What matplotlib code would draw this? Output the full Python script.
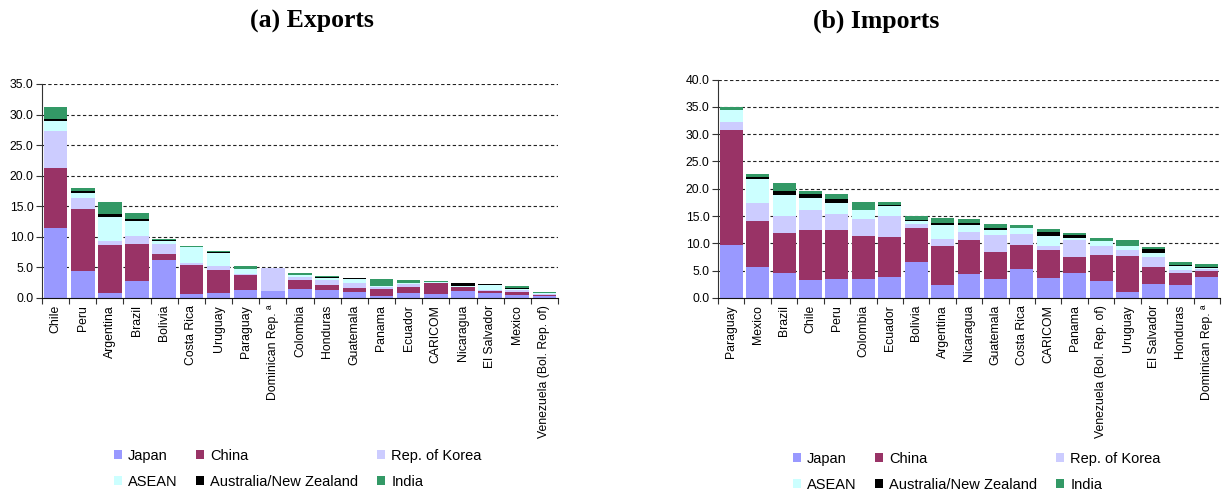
import matplotlib
matplotlib.use("Agg")
import matplotlib.pyplot as plt
import numpy as np
from matplotlib.ticker import FixedLocator, FormatStrFormatter

plt.rcParams['font.family'] = ['Liberation Sans', 'DejaVu Sans']

partners = ["Japan", "China", "Rep. of Korea", "ASEAN", "Australia/New Zealand", "India"]
colors = ["#9999FF", "#993366", "#CCCCFF", "#CCFFFF", "#000000", "#339966"]

# ---- (a) Exports: share of each partner, by country ----
exp_countries = ["Chile", "Peru", "Argentina", "Brazil", "Bolivia", "Costa Rica", "Uruguay",
                 "Paraguay", "Dominican Rep. \u00aa", "Colombia", "Honduras", "Guatemala",
                 "Panama", "Ecuador", "CARICOM", "Nicaragua", "El Salvador", "Mexico",
                 "Venezuela (Bol. Rep. of)"]
exp_japan = [11.4, 4.4, 0.75, 2.7, 6.2, 0.6, 0.75, 1.25, 1.1, 1.4, 1.25, 0.95, 0.25, 0.75, 0.6, 1.1, 0.75, 0.5, 0.3]
exp_china = [9.8, 10.1, 7.85, 6.1, 1.0, 4.75, 3.75, 2.45, 0.0, 1.5, 0.85, 0.65, 1.2, 1.0, 1.8, 0.65, 0.35, 0.45, 0.15]
exp_korea = [6.1, 1.8, 0.8, 1.3, 1.6, 0.35, 0.7, 0.2, 3.8, 0.5, 0.8, 0.8, 0.3, 0.5, 0.05, 0.1, 0.15, 0.3, 0.15]
exp_asean = [1.6, 0.8, 3.8, 2.5, 0.5, 2.6, 2.2, 0.8, 0.0, 0.3, 0.3, 0.7, 0.15, 0.15, 0.1, 0.15, 0.8, 0.25, 0.15]
exp_ausnz = [0.4, 0.4, 0.5, 0.3, 0.15, 0.0, 0.1, 0.05, 0.0, 0.0, 0.3, 0.1, 0.0, 0.0, 0.0, 0.4, 0.2, 0.1, 0.0]
exp_india = [1.9, 0.5, 2.0, 1.0, 0.2, 0.15, 0.15, 0.45, 0.0, 0.35, 0.05, 0.05, 1.2, 0.5, 0.2, 0.0, 0.0, 0.3, 0.2]

# ---- (b) Imports: share of each partner, by country ----
imp_countries = ["Paraguay", "Mexico", "Brazil", "Chile", "Peru", "Colombia", "Ecuador",
                 "Bolivia", "Argentina", "Nicaragua", "Guatemala", "Costa Rica", "CARICOM",
                 "Panama", "Venezuela (Bol. Rep. of)", "Uruguay", "El Salvador", "Honduras",
                 "Dominican Rep. \u00aa"]
imp_japan = [9.65, 5.6, 4.5, 3.25, 3.4, 3.4, 3.8, 6.5, 2.3, 4.35, 3.4, 5.4, 3.6, 4.5, 3.05, 1.05, 2.5, 2.3, 3.8]
imp_china = [21.05, 8.45, 7.35, 9.15, 9.0, 7.9, 7.3, 6.3, 7.2, 6.25, 5.0, 4.25, 5.1, 2.95, 4.75, 6.55, 3.1, 2.2, 1.1]
imp_korea = [1.5, 3.25, 3.1, 3.8, 2.9, 3.1, 4.0, 0.7, 1.25, 1.4, 3.1, 2.05, 0.8, 3.15, 1.65, 1.1, 1.85, 0.55, 0.35]
imp_asean = [2.2, 4.4, 3.85, 2.05, 2.0, 1.7, 1.7, 0.55, 2.55, 1.3, 0.9, 1.2, 1.8, 0.3, 0.95, 0.8, 0.75, 0.75, 0.25]
imp_ausnz = [0.0, 0.4, 0.7, 0.75, 0.8, 0.1, 0.2, 0.15, 0.4, 0.4, 0.5, 0.0, 0.7, 0.6, 0.1, 0.1, 0.7, 0.2, 0.25]
imp_india = [0.5, 0.55, 1.5, 0.5, 0.9, 1.3, 0.5, 0.8, 0.9, 0.7, 0.6, 0.4, 0.6, 0.35, 0.4, 1.0, 0.4, 0.5, 0.45]

W, H = 1224, 495
fig = plt.figure(figsize=(W / 100, H / 100), dpi=100)


def px_axes(left, right, top, bottom):
    return fig.add_axes([left / W, 1 - bottom / H, (right - left) / W, (bottom - top) / H])


def stacked(ax, countries, series, ymax):
    x = np.arange(len(countries))
    base = np.zeros(len(countries))
    handles = []
    for vals, col, name in zip(series, colors, partners):
        v = np.array(vals, dtype=float)
        h = ax.bar(x, v, bottom=base, width=0.87, color=col, linewidth=0, label=name, zorder=2)
        handles.append(h)
        base += v
    ax.set_xlim(-0.5, len(countries) - 0.5)
    ax.set_ylim(0, ymax)
    ax.set_yticks(np.arange(0, ymax + 0.1, 5))
    ax.yaxis.set_major_formatter(FormatStrFormatter('%.1f'))
    ax.set_xticks(x)
    ax.set_xticklabels(countries, rotation=90, fontsize=8.8)
    ax.xaxis.set_minor_locator(FixedLocator(np.arange(-0.5, len(countries), 1.0)))
    ax.tick_params(axis='x', which='major', length=0, pad=5)
    ax.tick_params(axis='x', which='minor', length=4, width=0.8, color='#333333')
    ax.tick_params(axis='y', length=4, width=0.8, color='#333333', labelsize=8.8, pad=2)
    for s in ('top', 'right'):
        ax.spines[s].set_visible(False)
    ax.spines['left'].set_color('#333333')
    ax.spines['bottom'].set_color('#111111')
    ax.set_axisbelow(True)
    for yv in np.arange(5, ymax + 0.1, 5):
        ax.axhline(yv, color='#222222', lw=0.8, ls=(0, (3, 2.2)), zorder=1)
    return handles


ax1 = px_axes(42, 558, 84, 298)
h1 = stacked(ax1, exp_countries,
             [exp_japan, exp_china, exp_korea, exp_asean, exp_ausnz, exp_india], 35)

ax2 = px_axes(718, 1220, 79.5, 298)
h2 = stacked(ax2, imp_countries,
             [imp_japan, imp_china, imp_korea, imp_asean, imp_ausnz, imp_india], 40)

fig.text(312 / W, 1 - 21 / H, "(a) Exports", ha='center', va='center',
         family='Liberation Serif', weight='bold', fontsize=18.5)
fig.text(876 / W, 1 - 21 / H, "(b) Imports", ha='center', va='center',
         family='Liberation Serif', weight='bold', fontsize=18.5)

order = [0, 3, 1, 4, 2, 5]
for handles, xl, yt in ((h1, 114, 449), (h2, 793, 452)):
    fig.legend([handles[i] for i in order], [partners[i] for i in order],
               loc='upper left', bbox_to_anchor=(xl / W, 1 - yt / H), ncol=3,
               frameon=False, fontsize=10.5, handlelength=0.55, handleheight=0.55,
               handletextpad=0.4, columnspacing=1.3, labelspacing=0.8,
               borderpad=0, borderaxespad=0)

fig.savefig("out.png", dpi=100)
